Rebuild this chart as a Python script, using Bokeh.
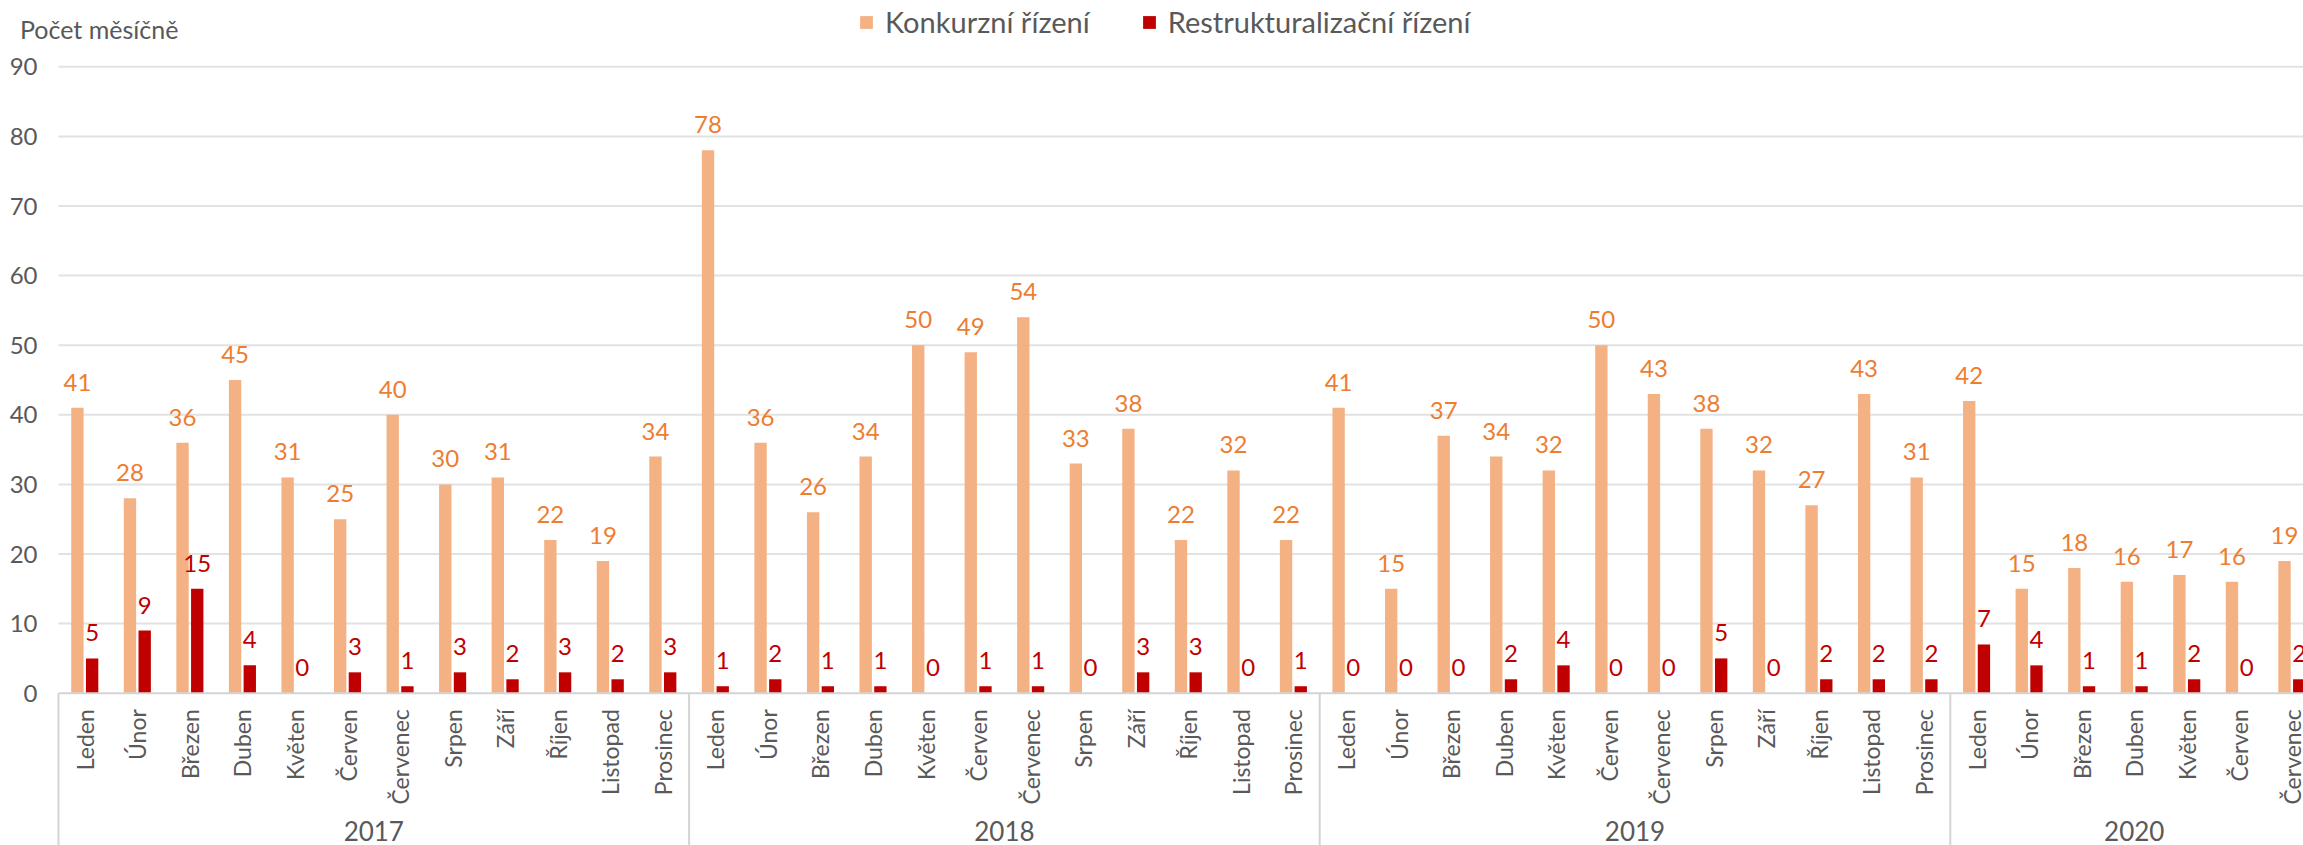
import math
from bokeh.plotting import figure
from bokeh.models import ColumnDataSource, LabelSet, Label, Range1d, Legend, LegendItem
from bokeh.core.properties import value
from bokeh.embed import file_html
from bokeh.resources import INLINE

# ---------------- data ----------------
months = ["Leden", "Únor", "Březen", "Duben", "Květen", "Červen", "Červenec",
          "Srpen", "Září", "Říjen", "Listopad", "Prosinec"]
years = ["2017", "2018", "2019", "2020"]

konkurz_2017 = [41, 28, 36, 45, 31, 25, 40, 30, 31, 22, 19, 34]
restr_2017 = [5, 9, 15, 4, 0, 3, 1, 3, 2, 3, 2, 3]
konkurz_2018 = [78, 36, 26, 34, 50, 49, 54, 33, 38, 22, 32, 22]
restr_2018 = [1, 2, 1, 1, 0, 1, 1, 0, 3, 3, 0, 1]
konkurz_2019 = [41, 15, 37, 34, 32, 50, 43, 38, 32, 27, 43, 31]
restr_2019 = [0, 0, 0, 2, 4, 0, 0, 5, 0, 2, 2, 2]
konkurz_2020 = [42, 15, 18, 16, 17, 16, 19]
restr_2020 = [7, 4, 1, 1, 2, 0, 2]

y_ticks = [0, 10, 20, 30, 40, 50, 60, 70, 80, 90]
series_names = ["Konkurzní řízení", "Restrukturalizační řízení"]
y_title = "Počet měsíčně"

# ---------------- styles / layout ----------------
ORANGE = "#F4B183"
ORANGE_TXT = "#ED7D31"
RED = "#C00000"
GRAY_TXT = "#595959"
GRID = "#E2E2E2"
AXIS = "#D4D4D4"
FONT = "Lato"

W, H = 2303, 845
PLOT_LEFT = 58.0      # canvas px where the first category begins
CAT_PX = 52.55        # px per category
ZERO_PX = 692.7       # canvas y of value 0
UNIT_PX = 6.96        # px per unit
BAR_W = 0.235
BAR_OFF = 0.14

x_start = -PLOT_LEFT / CAT_PX
x_end = (W - PLOT_LEFT) / CAT_PX
y_top = ZERO_PX / UNIT_PX
y_bottom = -(H - ZERO_PX) / UNIT_PX

# ---------------- flatten ----------------
konk_all = [konkurz_2017, konkurz_2018, konkurz_2019, konkurz_2020]
restr_all = [restr_2017, restr_2018, restr_2019, restr_2020]

xs, labels, kv, rv = [], [], [], []
group_centers, boundaries = [], [0]
pos = 0
for yi, yr in enumerate(years):
    n = len(konk_all[yi])
    for mi in range(n):
        xs.append(pos + mi + 0.5)
        labels.append(months[mi])
        kv.append(konk_all[yi][mi])
        rv.append(restr_all[yi][mi])
    group_centers.append(pos + n / 2)
    pos += n
    boundaries.append(pos)

src = ColumnDataSource(dict(
    xk=[x - BAR_OFF for x in xs],
    xr=[x + BAR_OFF for x in xs],
    xc=xs,
    k=kv, r=rv,
    kt=[str(v) for v in kv],
    rt=[str(v) for v in rv],
    month=labels,
    zero=[0] * len(xs),
))

p = figure(width=W, height=H, output_backend="svg", toolbar_location=None,
           x_range=Range1d(x_start, x_end), y_range=Range1d(y_bottom, y_top),
           min_border_left=0, min_border_right=0, min_border_top=0, min_border_bottom=0,
           x_axis_type=None, y_axis_type=None)
p.grid.visible = False
p.outline_line_color = None
p.background_fill_color = "white"
p.border_fill_color = "white"

# gridlines
grid_y = [t for t in y_ticks if t > 0]
p.segment(x0=[0] * len(grid_y), x1=[x_end] * len(grid_y), y0=grid_y, y1=grid_y,
          line_color=GRID, line_width=2)

# bars
rk = p.vbar(x="xk", top="k", width=BAR_W, source=src, fill_color=ORANGE, line_color=None)
rr = p.vbar(x="xr", top="r", width=BAR_W, source=src, fill_color=RED, line_color=None)

# category axis line and separators
p.segment(x0=[0], x1=[x_end], y0=[0], y1=[0], line_color=AXIS, line_width=2)
sep = boundaries[:-1]
p.segment(x0=sep, x1=sep, y0=[0] * len(sep), y1=[y_bottom] * len(sep),
          line_color=AXIS, line_width=2)

F = value(FONT)

# data labels
p.add_layout(LabelSet(x="xk", y="k", text="kt", source=src, y_offset=17,
                      text_align="center", text_baseline="alphabetic",
                      text_font=F, text_font_size=value("24px"), text_color=ORANGE_TXT))
p.add_layout(LabelSet(x="xr", y="r", text="rt", source=src, y_offset=17,
                      text_align="center", text_baseline="alphabetic",
                      text_font=F, text_font_size=value("24px"), text_color=RED))

# month labels
p.add_layout(LabelSet(x="xc", y="zero", text="month", source=src, y_offset=-16,
                      angle=math.pi / 2, text_align="right", text_baseline="middle",
                      text_font=F, text_font_size=value("23px"), text_color=GRAY_TXT))

# year labels
ysrc = ColumnDataSource(dict(x=group_centers, y=[0] * len(years), t=years))
p.add_layout(LabelSet(x="x", y="y", text="t", source=ysrc, y_offset=-138,
                      text_align="center", text_baseline="middle",
                      text_font=F, text_font_size=value("26px"), text_color=GRAY_TXT))

# y tick labels
tsrc = ColumnDataSource(dict(x=[0] * len(y_ticks), y=y_ticks, t=[str(t) for t in y_ticks]))
p.add_layout(LabelSet(x="x", y="y", text="t", source=tsrc, x_offset=-21,
                      text_align="right", text_baseline="middle",
                      text_font=F, text_font_size=value("24px"), text_color=GRAY_TXT))

# axis title
p.add_layout(Label(x=19.5, y=H - 28.0, x_units="screen", y_units="screen", text=y_title,
                   text_align="left", text_baseline="alphabetic",
                   text_font=FONT, text_font_size="25px", text_color=GRAY_TXT))

# legend
legend = Legend(items=[LegendItem(label=series_names[0], renderers=[rk]),
                       LegendItem(label=series_names[1], renderers=[rr])],
                orientation="horizontal", location=(858, H - 22.4 - 17),
                padding=0, margin=0, spacing=51, label_standoff=11,
                glyph_width=16, glyph_height=16, label_height=16,
                label_text_font=FONT, label_text_font_size="29px",
                label_text_color=GRAY_TXT, border_line_color=None,
                background_fill_alpha=0)
p.add_layout(legend)

open("out.html", "w").write(file_html(p, INLINE))
